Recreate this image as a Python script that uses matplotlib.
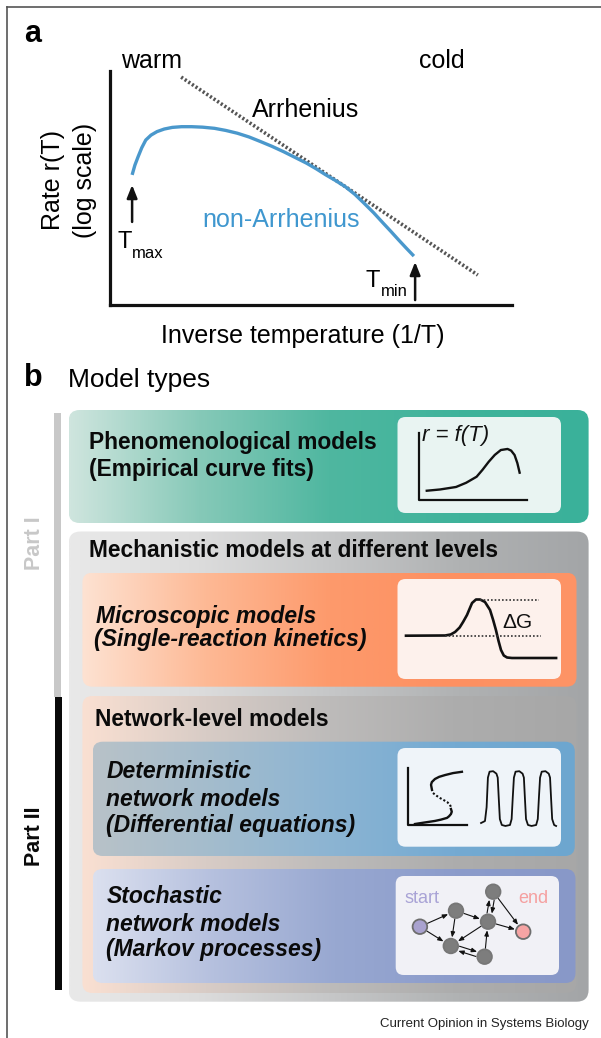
import numpy as np
import matplotlib
matplotlib.use('Agg')
import matplotlib.pyplot as plt
from matplotlib.patches import FancyBboxPatch, Circle
from matplotlib.colors import LinearSegmentedColormap

plt.rcParams['font.family'] = ['Liberation Sans', 'DejaVu Sans']

# ---------------- data ----------------
# Panel a: schematic rate vs inverse temperature (arbitrary units 0..100)
rate_x = [5.5, 6.2, 7.0, 7.9, 8.9, 10.2, 11.7, 13.5, 15.5, 17.8, 20.3, 23.0, 26.0, 28.8, 31.7,
          34.6, 37.5, 40.3, 43.2, 46.0, 48.9, 51.3, 53.7, 56.1, 58.5, 60.9, 63.2, 65.6, 68.0,
          69.9, 71.8, 73.7, 75.6]
rate_y = [55.6, 59.8, 63.4, 67.2, 70.5, 72.6, 74.1, 75.2, 75.9, 76.2, 76.2, 76.0, 75.5, 74.6, 73.4,
          71.8, 69.8, 67.8, 65.5, 63.1, 60.6, 58.2, 55.6, 53.2, 50.6, 47.3, 43.5, 39.4, 34.9,
          31.4, 27.8, 24.3, 20.9]
arrh_x = [17.7, 91.5]
arrh_y = [97.4, 12.8]
tmax_arrow = (5.5, 35.5, 51.3)   # x, y_from, y_to
tmin_arrow = (75.9, 2.1, 18.4)

# Panel b icons
phen_x = [17.9, 26.0, 35.8, 42.0, 48.4, 52.0, 55.8, 59.5, 63.2, 67.3, 69.5, 71.6, 73.3, 74.7]
phen_y = [23.2, 24.5, 27.1, 31.5, 37.8, 45.0, 53.4, 60.5, 65.6, 66.7, 65.0, 60.4, 52.0, 42.0]

energy_x = [5.2, 29.1, 32.5, 35.2, 38.0, 40.1, 42.5, 44.3, 45.6, 48.0, 50.5, 53.5, 56.6, 58.5,
            60.2, 61.8, 63.3, 65.0, 67.0, 70.0, 97.0]
energy_y = [43.3, 43.5, 44.5, 47.0, 51.5, 57.0, 64.0, 71.0, 76.0, 79.5, 79.5, 77.0, 69.0, 59.0,
            49.0, 38.0, 29.0, 23.5, 21.5, 21.0, 21.0]
barrier_level = 79.5
start_level = 43.3

s_top_x = [39.4, 34.0, 29.1, 25.5, 22.9, 21.0, 20.5, 21.1]
s_top_y = [75.9, 74.6, 72.6, 70.8, 68.6, 65.5, 62.7, 57.5]
s_mid_x = [21.7, 24.0, 26.0, 28.3, 30.3, 32.0, 32.7]
s_mid_y = [54.4, 51.5, 49.3, 47.2, 45.3, 42.8, 40.2]
s_bot_x = [32.7, 33.2, 32.7, 31.5, 30.3, 26.5, 22.9, 16.5, 10.7]
s_bot_y = [38.2, 35.5, 33.1, 30.8, 29.2, 27.4, 26.1, 24.5, 23.0]

osc_x = [51.1, 53.5, 54.5, 55.3, 56.3, 58.5, 60.5, 61.3, 61.9, 62.6, 63.8, 66.0, 68.8, 69.8, 70.5,
         71.2, 72.2, 74.5, 76.5, 77.3, 77.9, 78.6, 79.8, 82.0, 84.8, 85.8, 86.5, 87.2, 88.2, 90.5,
         92.5, 93.3, 93.9, 94.6, 95.8, 97.0]
osc_y = [24.0, 26.0, 40.0, 70.0, 76.0, 76.5, 74.0, 70.0, 50.0, 28.0, 22.0, 21.0, 22.0, 28.0, 50.0,
         70.0, 76.0, 76.5, 74.0, 70.0, 50.0, 28.0, 22.0, 21.0, 22.0, 28.0, 50.0, 70.0, 76.0, 76.5,
         74.0, 70.0, 50.0, 28.0, 22.0, 21.0]

node_names = ['start', 'A', 'top', 'B', 'C', 'D', 'end']
node_x = [24.2, 60.3, 97.5, 92.3, 55.1, 88.9, 127.5]
node_y = [48.3, 64.3, 83.3, 53.3, 29.0, 18.3, 43.3]
edges_single = [('start', 'A'), ('start', 'C'), ('A', 'C'), ('A', 'B'), ('B', 'C'),
                ('D', 'B'), ('top', 'end'), ('B', 'end')]
edges_double = [('C', 'D'), ('B', 'top')]

# ---------------- figure ----------------
W, H = 601, 1038
fig = plt.figure(figsize=(W / 100, H / 100), dpi=100)
bg = fig.add_axes([0, 0, 1, 1])
bg.set_xlim(0, W)
bg.set_ylim(H, 0)
bg.axis('off')


def px_axes(x0, y0, x1, y1):
    ax = fig.add_axes([x0 / W, 1 - y1 / H, (x1 - x0) / W, (y1 - y0) / H])
    ax.patch.set_alpha(0)
    return ax


def grad_box(x0, y0, x1, y1, stops, r, z):
    patch = FancyBboxPatch((x0, y0), x1 - x0, y1 - y0,
                           boxstyle=f"round,pad=0,rounding_size={r}",
                           fc='none', ec='none', zorder=z)
    bg.add_patch(patch)
    cmap = LinearSegmentedColormap.from_list('g', stops)
    im = bg.imshow(np.linspace(0, 1, 512).reshape(1, -1), extent=(x0, x1, y1, y0),
                   cmap=cmap, aspect='auto', zorder=z, interpolation='bilinear')
    im.set_clip_path(patch)


def solid_box(x0, y0, x1, y1, color, r, z):
    bg.add_patch(FancyBboxPatch((x0, y0), x1 - x0, y1 - y0,
                                boxstyle=f"round,pad=0,rounding_size={r}",
                                fc=color, ec='none', zorder=z))


# frame
bg.plot([7, 601], [7, 7], color='#555555', lw=1.2, zorder=1)
bg.plot([7, 7], [7, 1038], color='#555555', lw=1.2, zorder=1)

# ---------------- panel a ----------------
bg.text(24, 42, 'a', fontsize=22, fontweight='bold')
bg.text(121, 68, 'warm', fontsize=18)
bg.text(419, 68, 'cold', fontsize=18)
bg.text(252, 117, 'Arrhenius', fontsize=18)
bg.text(202, 227, 'non-Arrhenius', fontsize=18, color='#3f97cf')
bg.text(53, 180, 'Rate r(T)', fontsize=18, rotation=90, ha='center', va='center')
bg.text(85, 180, '(log scale)', fontsize=18, rotation=90, ha='center', va='center')
bg.text(303, 343, 'Inverse temperature (1/T)', fontsize=18, ha='center')
bg.text(118, 248, 'T', fontsize=17)
bg.text(132, 258, 'max', fontsize=12)
bg.text(365, 287, 'T', fontsize=17)
bg.text(381, 296, 'min', fontsize=12)

axa = px_axes(110, 71, 512, 305)
axa.set_xlim(0, 100)
axa.set_ylim(0, 100)
for s in ['top', 'right']:
    axa.spines[s].set_visible(False)
for s in ['left', 'bottom']:
    axa.spines[s].set_linewidth(2.3)
    axa.spines[s].set_color('#111111')
axa.set_xticks([])
axa.set_yticks([])
axa.plot(arrh_x, arrh_y, color='#555555', lw=2.6, ls=(0, (0.6, 0.6)), clip_on=False)
axa.plot(rate_x, rate_y, color='#4a98cc', lw=2.4, solid_capstyle='butt', clip_on=False)
for (ax_x, y0, y1) in [tmax_arrow, tmin_arrow]:
    axa.annotate('', xy=(ax_x, y1), xytext=(ax_x, y0),
                 arrowprops=dict(arrowstyle='-|>,head_length=0.55,head_width=0.22',
                                 lw=1.8, color='#111111', shrinkA=0, shrinkB=0,
                                 mutation_scale=14))

# ---------------- panel b ----------------
bg.text(24, 386, 'b', fontsize=22, fontweight='bold')
bg.text(68, 387, 'Model types', fontsize=19)

# Part bars
bg.add_patch(plt.Rectangle((54, 413), 6.5, 284, fc='#c8c8c8', ec='none', zorder=2))
bg.add_patch(plt.Rectangle((54.5, 697), 7, 293, fc='#0a0a0a', ec='none', zorder=2))
bg.text(35, 543, 'Part I', fontsize=15.5, fontweight='bold', color='#c8c8c8',
        rotation=90, ha='center', va='center')
bg.text(35, 836, 'Part II', fontsize=15.5, fontweight='bold', color='#0a0a0a',
        rotation=90, ha='center', va='center')

# boxes
grad_box(68.6, 410, 588.6, 523, ['#cfe5de', '#86c9b8', '#4fb7a0', '#3fb39b', '#3ab19a'], 11, 2)
grad_box(68.6, 531.5, 588.6, 1001.7, ['#e9e9e9', '#dcdcdc', '#c6c7c8', '#b0b2b3', '#a3a5a7'], 12, 2)
grad_box(82.4, 572.7, 576.5, 686.7, ['#fde2d2', '#fdb995', '#fd9a6c', '#fd9061', '#fe9466'], 10, 3)
grad_box(82.4, 696, 576.5, 993, ['#fae0d2', '#d8ccc6', '#bdbbba', '#adadad', '#a7a7a7'], 10, 3)
grad_box(92.7, 741.7, 574.8, 856, ['#b8c2c8', '#a3bccd', '#8bb4d3', '#74aad2', '#6da6cf'], 10, 4)
grad_box(92.7, 869, 575.5, 983, ['#dbe0ef', '#b5c0de', '#98a8d1', '#8c9ccb', '#8898c8'], 10, 4)

# insets
solid_box(397.5, 417, 561, 513, '#e9f4f2', 8, 5)
solid_box(397.5, 579, 561, 679, '#fdf1ec', 8, 5)
solid_box(397.5, 748, 561, 846.7, '#eff4f9', 8, 5)
solid_box(395.7, 876, 559, 975, '#f1f1f6', 8, 5)

# box texts
bf = dict(fontsize=16.4, fontweight='bold', color='#0a0a0a', zorder=6)
bi = dict(fontsize=16.5, fontweight='bold', fontstyle='italic', color='#0a0a0a', zorder=6)
bg.text(89, 449, 'Phenomenological models', **bf)
bg.text(89, 476, '(Empirical curve fits)', **bf)
bg.text(89, 557, 'Mechanistic models at different levels', **bf)
bg.text(96, 623, 'Microscopic models', **bi)
bg.text(94, 646, '(Single-reaction kinetics)', **bi)
bg.text(95, 726, 'Network-level models', **bf)
bg.text(106.5, 778, 'Deterministic', **bi)
bg.text(106.5, 806, 'network models', **bi)
bg.text(106.5, 832, '(Differential equations)', **bi)
bg.text(106.5, 903, 'Stochastic', **bi)
bg.text(106.5, 931, 'network models', **bi)
bg.text(106.5, 956, '(Markov processes)', **bi)

bg.text(588.6, 1027, 'Current Opinion in Systems Biology', fontsize=9.5, ha='right', color='#222222')

# icon 1: phenomenological
ax1 = px_axes(397.5, 417, 561, 513)
ax1.set_xlim(0, 100); ax1.set_ylim(0, 100); ax1.axis('off')
ax1.plot([13.1, 13.1, 79], [83.3, 13.5, 13.5], color='#111111', lw=1.6)
ax1.plot(phen_x, phen_y, color='#111111', lw=1.7)
ax1.text(14.8, 75, 'r = f(T)', fontsize=16, fontstyle='italic', color='#111111')

# icon 2: energy barrier
ax2 = px_axes(397.5, 579, 561, 679)
ax2.set_xlim(0, 100); ax2.set_ylim(0, 100); ax2.axis('off')
ax2.plot(energy_x, energy_y, color='#111111', lw=1.9)
ax2.plot([50.5, 86.8], [barrier_level, barrier_level], color='#333333', lw=1.2, ls=(0, (1, 1.2)))
ax2.plot([29.1, 87.7], [start_level, start_level], color='#333333', lw=1.2, ls=(0, (1, 1.2)))
ax2.text(64, 51, 'ΔG', fontsize=15, color='#111111')

# icon 3: bistability + oscillations
ax3 = px_axes(397.5, 748, 561, 846.7)
ax3.set_xlim(0, 100); ax3.set_ylim(0, 100); ax3.axis('off')
ax3.plot([6.4, 6.4, 42.5], [79.7, 22.1, 22.1], color='#111111', lw=1.6)
ax3.plot(s_top_x, s_top_y, color='#111111', lw=1.7)
ax3.plot(s_mid_x, s_mid_y, color='#111111', lw=1.5, ls=(0, (1, 1)))
ax3.plot(s_bot_x, s_bot_y, color='#111111', lw=1.7)
ax3.plot(osc_x, osc_y, color='#111111', lw=1.3)

# icon 4: Markov network
ax4 = px_axes(395.7, 876, 559, 975)
ax4.set_xlim(0, 163.3); ax4.set_ylim(0, 99); ax4.axis('off')
pos = {n: (x, y) for n, x, y in zip(node_names, node_x, node_y)}


def arrow(p0, p1):
    ax4.annotate('', xy=p1, xytext=p0,
                 arrowprops=dict(arrowstyle='-|>,head_length=0.45,head_width=0.18',
                                 lw=0.8, color='#111111', shrinkA=6.0, shrinkB=6.2,
                                 mutation_scale=7))


for a, b in edges_single:
    arrow(pos[a], pos[b])
for a, b in edges_double:
    (xa, ya), (xb, yb) = pos[a], pos[b]
    dx, dy = xb - xa, yb - ya
    L = np.hypot(dx, dy)
    ox, oy = -dy / L * 2.4, dx / L * 2.4
    arrow((xa + ox, ya + oy), (xb + ox, yb + oy))
    arrow((xb - ox, yb - oy), (xa - ox, ya - oy))

fills = {'start': '#a9a2cf', 'end': '#f6a4a4'}
for n in node_names:
    ax4.add_patch(Circle(pos[n], 7.3, fc=fills.get(n, '#7d7d7d'),
                         ec='#6e6e6e' if n in fills else '#777777', lw=1.3, zorder=5))
ax4.text(8.5, 72, 'start', fontsize=13, color='#a9a3d6')
ax4.text(122.5, 72, 'end', fontsize=13, color='#f5a0a0')

fig.savefig('out.png', dpi=100)
